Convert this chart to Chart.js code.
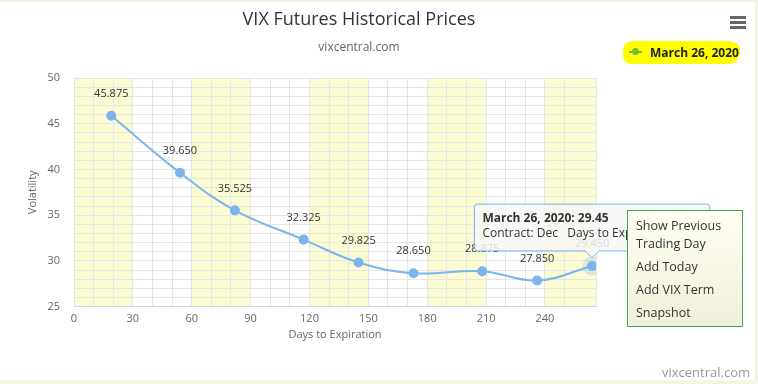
<!DOCTYPE html>
<html>
<head>
<meta charset="utf-8">
<script src="https://cdn.jsdelivr.net/npm/chart.js@4.4.1/dist/chart.umd.min.js"></script>
<style>
body{margin:0;background:#f4f4e6;width:758px;height:384px;overflow:hidden;font-family:"Open Sans",sans-serif;position:relative;}
#card{position:absolute;left:0;top:2px;width:755px;height:378px;background:#fff;}
#wrap{position:absolute;left:0;top:0;width:718px;height:378px;}
.bar{position:absolute;left:730px;width:16px;height:3px;background:#666;}
#legend{position:absolute;left:623px;top:39px;width:117px;height:23px;background:#ffff00;border-radius:9px 14px 11px 7px / 10px 8px 12px 9px;}
#legend .ln{position:absolute;left:6px;top:10px;width:13px;height:2px;background:#74bb35;}
#legend .dot{position:absolute;left:9px;top:7px;width:7px;height:7px;border-radius:50%;background:#74bb35;}
#legend .txt{position:absolute;left:27px;top:3px;font-size:12px;font-weight:bold;color:#222;white-space:nowrap;}
#menu{position:absolute;left:627px;top:208px;width:114px;height:115px;border:1px solid #3fae3f;background:linear-gradient(#fffff3,#f1f0dc);font-size:12.5px;color:#333;}
#menu div{position:absolute;left:8px;white-space:nowrap;}
#credit{position:absolute;left:662px;top:363px;font-size:13px;color:#999;}
</style>
</head>
<body>
<div id="card">
  <div id="wrap"><canvas id="chart"></canvas></div>
  <div class="bar" style="top:14px"></div>
  <div class="bar" style="top:19px"></div>
  <div class="bar" style="top:24px"></div>
  <div id="legend"><div class="ln"></div><div class="dot"></div><div class="txt">March 26, 2020</div></div>
  <div id="menu">
    <div style="top:6px">Show Previous</div>
    <div style="top:24px">Trading Day</div>
    <div style="top:47px">Add Today</div>
    <div style="top:70px">Add VIX Term</div>
    <div style="top:93px">Snapshot</div>
  </div>
</div>
<div id="credit">vixcentral.com</div>
<script>
// series data
const seriesName = "March 26, 2020";
const days = [19, 54, 82, 117, 145, 173, 208, 236, 264];
const prices = [45.875, 39.650, 35.525, 32.325, 29.825, 28.650, 28.875, 27.850, 29.450];
const contracts = ["Apr", "May", "Jun", "Jul", "Aug", "Sep", "Oct", "Nov", "Dec"];

// axis setup
const xMin = 0, xMax = 266;
const yMin = 25, yMax = 50;
const xLabelStep = 30, yLabelStep = 5;
const bands = [[0, 30], [60, 90], [120, 150], [180, 210], [240, 270]];

const font = "'Open Sans', sans-serif";

// yellow plot bands behind the grid
const bandPlugin = {
    id: "bands",
    beforeDraw(chart) {
        const c = chart.ctx, a = chart.chartArea, x = chart.scales.x;
        c.save();
        c.fillStyle = "#fbfcd2";
        bands.forEach(b => {
            let l = Math.max(x.getPixelForValue(b[0]), a.left);
            let r = Math.min(x.getPixelForValue(b[1]), a.right);
            c.fillRect(l, a.top, r - l, a.bottom - a.top);
        });
        c.restore();
    }
};

// value labels above each point
const labelPlugin = {
    id: "valueLabels",
    afterDatasetsDraw(chart) {
        const c = chart.ctx;
        const meta = chart.getDatasetMeta(0);
        c.save();
        c.font = "11px " + font;
        c.fillStyle = "#333";
        c.textAlign = "center";
        c.textBaseline = "middle";
        meta.data.forEach((p, i) => {
            c.fillText(prices[i].toFixed(3), p.x, p.y - 22);
        });
        c.restore();
    }
};

const chart = new Chart(document.getElementById("chart"), {
    type: "line",
    data: {
        datasets: [{
            label: seriesName,
            data: days.map((d, i) => ({ x: d, y: prices[i] })),
            borderColor: "#7cb5ec",
            backgroundColor: "#7cb5ec",
            borderWidth: 2,
            tension: 0.4,
            pointRadius: 4,
            pointHoverRadius: 5,
            pointHoverBorderWidth: 9,
            pointHoverBorderColor: "rgba(124,181,236,0.25)",
            pointHoverBackgroundColor: "#7cb5ec"
        }]
    },
    options: {
        responsive: true,
        maintainAspectRatio: false,
        animation: false,
        events: [],
        layout: { padding: { left: 0, right: 0, top: 0, bottom: 39 } },
        plugins: {
            legend: { display: false },
            title: {
                display: true,
                text: "VIX Futures Historical Prices",
                color: "#333",
                font: { family: font, size: 18, weight: "normal" },
                padding: { top: 7, bottom: 10 }
            },
            subtitle: {
                display: true,
                text: "vixcentral.com",
                color: "#666",
                font: { family: font, size: 12 },
                padding: { top: 0, bottom: 23 }
            },
            tooltip: {
                yAlign: "bottom",
                xAlign: "center",
                backgroundColor: "rgba(247,247,247,0.85)",
                borderColor: "#7cb5ec",
                borderWidth: 1,
                cornerRadius: 3,
                caretSize: 7,
                caretPadding: 8,
                displayColors: false,
                titleColor: "#333",
                bodyColor: "#333",
                titleFont: { family: font, size: 12, weight: "bold" },
                bodyFont: { family: font, size: 12 },
                titleMarginBottom: 1,
                padding: { top: 7, bottom: 10, left: 8, right: 14 },
                callbacks: {
                    title: items => seriesName + ": " + prices[items[0].dataIndex],
                    label: item => "Contract: " + contracts[item.dataIndex] + "   Days to Expiration: " + days[item.dataIndex]
                }
            }
        },
        scales: {
            x: {
                type: "linear",
                min: xMin,
                max: xMax,
                ticks: {
                    stepSize: 10,
                    autoSkip: false,
                    maxRotation: 0,
                    padding: 6,
                    color: "#666",
                    font: { family: font, size: 11 },
                    callback: v => v % xLabelStep === 0 ? v : ""
                },
                grid: { color: "#e6e6e6", drawTicks: false },
                border: { color: "#ccd6eb", width: 1 },
                title: {
                    display: true,
                    text: "Days to Expiration",
                    color: "#666",
                    font: { family: font, size: 11 },
                    padding: { top: -4, bottom: 0 }
                }
            },
            y: {
                min: yMin,
                max: yMax,
                afterFit: s => { s.width = 74; },
                ticks: {
                    stepSize: 1,
                    autoSkip: false,
                    padding: 14,
                    color: "#666",
                    font: { family: font, size: 11 },
                    callback: v => v % yLabelStep === 0 ? v : ""
                },
                grid: { color: "#e6e6e6", drawTicks: false },
                border: { color: "#e6e6e6" },
                title: {
                    display: true,
                    text: "Volatility",
                    color: "#666",
                    font: { family: font, size: 11 },
                    padding: { top: 26, bottom: 0 }
                }
            },
            // empty right-hand space, so the plot ends where the original does
            yRight: {
                position: "right",
                afterFit: s => { s.width = 122; },
                ticks: { display: false },
                grid: { display: false },
                border: { display: false }
            }
        }
    },
    plugins: [bandPlugin, labelPlugin]
});

// show the hovered last point with its tooltip
const last = days.length - 1;
const pt = chart.getDatasetMeta(0).data[last];
chart.setActiveElements([{ datasetIndex: 0, index: last }]);
chart.tooltip.setActiveElements([{ datasetIndex: 0, index: last }], { x: pt.x, y: pt.y });
chart.update();
</script>
</body>
</html>
